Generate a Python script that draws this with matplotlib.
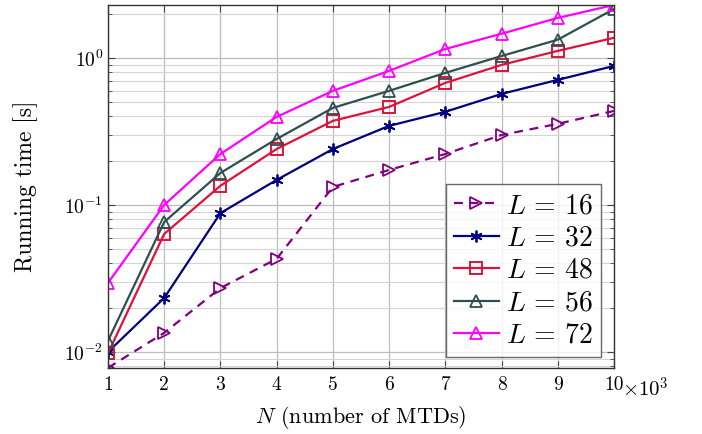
import numpy as np
import matplotlib
matplotlib.use("Agg")
import matplotlib.pyplot as plt

plt.rcParams['font.family'] = 'serif'
plt.rcParams['font.serif'] = ['cmr10', 'DejaVu Serif']
plt.rcParams['mathtext.fontset'] = 'cm'
plt.rcParams['axes.unicode_minus'] = False
plt.rcParams['axes.formatter.use_mathtext'] = True

# number of MTDs (x 10^3)
n_mtd = [1, 2, 3, 4, 5, 6, 7, 8, 9, 10]

# running time [s] for each L
t_l16 = [0.0078, 0.0135, 0.0272, 0.043, 0.1325, 0.173, 0.222, 0.299, 0.356, 0.436]
t_l32 = [0.0100, 0.0233, 0.088, 0.148, 0.240, 0.345, 0.43, 0.569, 0.709, 0.882]
t_l48 = [0.0098, 0.0635, 0.135, 0.240, 0.373, 0.464, 0.676, 0.896, 1.116, 1.37]
t_l56 = [0.0119, 0.0766, 0.165, 0.281, 0.457, 0.597, 0.791, 1.03, 1.33, 2.15]
t_l72 = [0.0295, 0.100, 0.222, 0.397, 0.597, 0.816, 1.15, 1.46, 1.87, 2.29]

xtick_labels = ['1', '2', '3', '4', '5', '6', '7', '8', '9', '10']

fig = plt.figure(figsize=(7.02, 4.34), dpi=100)
ax = fig.add_axes([0.1538, 0.152, 0.7208, 0.8365])

ax.plot(n_mtd, t_l16, color='#800080', ls=(0, (4, 3)), lw=1.6, marker='>', ms=9,
        mfc='none', mew=1.3, label=r'$L\,=\,16$')
ax.plot(n_mtd, t_l32, color='#000080', lw=1.6, marker=(6, 2, 0), ms=8.5,
        mew=1.3, label=r'$L\,=\,32$')
ax.plot(n_mtd, t_l48, color='#dc143c', lw=1.6, marker='s', ms=8.5,
        mfc='none', mew=1.4, label=r'$L\,=\,48$')
ax.plot(n_mtd, t_l56, color='#2f4f4f', lw=1.6, marker='^', ms=9,
        mfc='none', mew=1.3, label=r'$L\,=\,56$')
ax.plot(n_mtd, t_l72, color='#ff00ff', lw=1.6, marker='^', ms=9,
        mfc='none', mew=1.3, label=r'$L\,=\,72$')

ax.set_yscale('log')
ax.set_xlim(1, 10)
ax.set_ylim(0.00778, 2.29)
ax.set_xticks(n_mtd)
ax.set_xticklabels(xtick_labels)
ax.set_yticks([0.01, 0.1, 1])
ax.set_yticklabels([r'$10^{-2}$', r'$10^{-1}$', r'$10^{0}$'])

ax.grid(True, which='major', color='#bdbdbd', lw=0.9)
ax.grid(True, which='minor', axis='y', color='#d4d4d4', lw=0.8)
ax.set_axisbelow(True)
ax.tick_params(which='both', direction='in', top=True, right=True, labelsize=14,
               color='#444444')
ax.tick_params(which='major', length=5)
ax.tick_params(which='minor', length=3)
ax.tick_params(axis='x', pad=6)
for s in ax.spines.values():
    s.set_color('#333333')
    s.set_linewidth(1.0)

ax.annotate(r'$\times10^3$', xy=(1.0, 0.0), xycoords='axes fraction',
            xytext=(6, -6.5), textcoords='offset points', fontsize=15,
            ha='left', va='top')

ax.set_xlabel(r'$N$ (number of MTDs)', fontsize=16, labelpad=7)
ax.set_ylabel('Running time [s]', fontsize=17, labelpad=19)

leg = ax.legend(loc='lower right', bbox_to_anchor=(0.974, 0.03), fontsize=20,
                frameon=True, fancybox=False, edgecolor='#444444',
                handlelength=1.6, handletextpad=0.25, labelspacing=0.22,
                borderpad=0.3, borderaxespad=0)
leg.get_frame().set_linewidth(1.0)

fig.savefig('out.png', dpi=100)
